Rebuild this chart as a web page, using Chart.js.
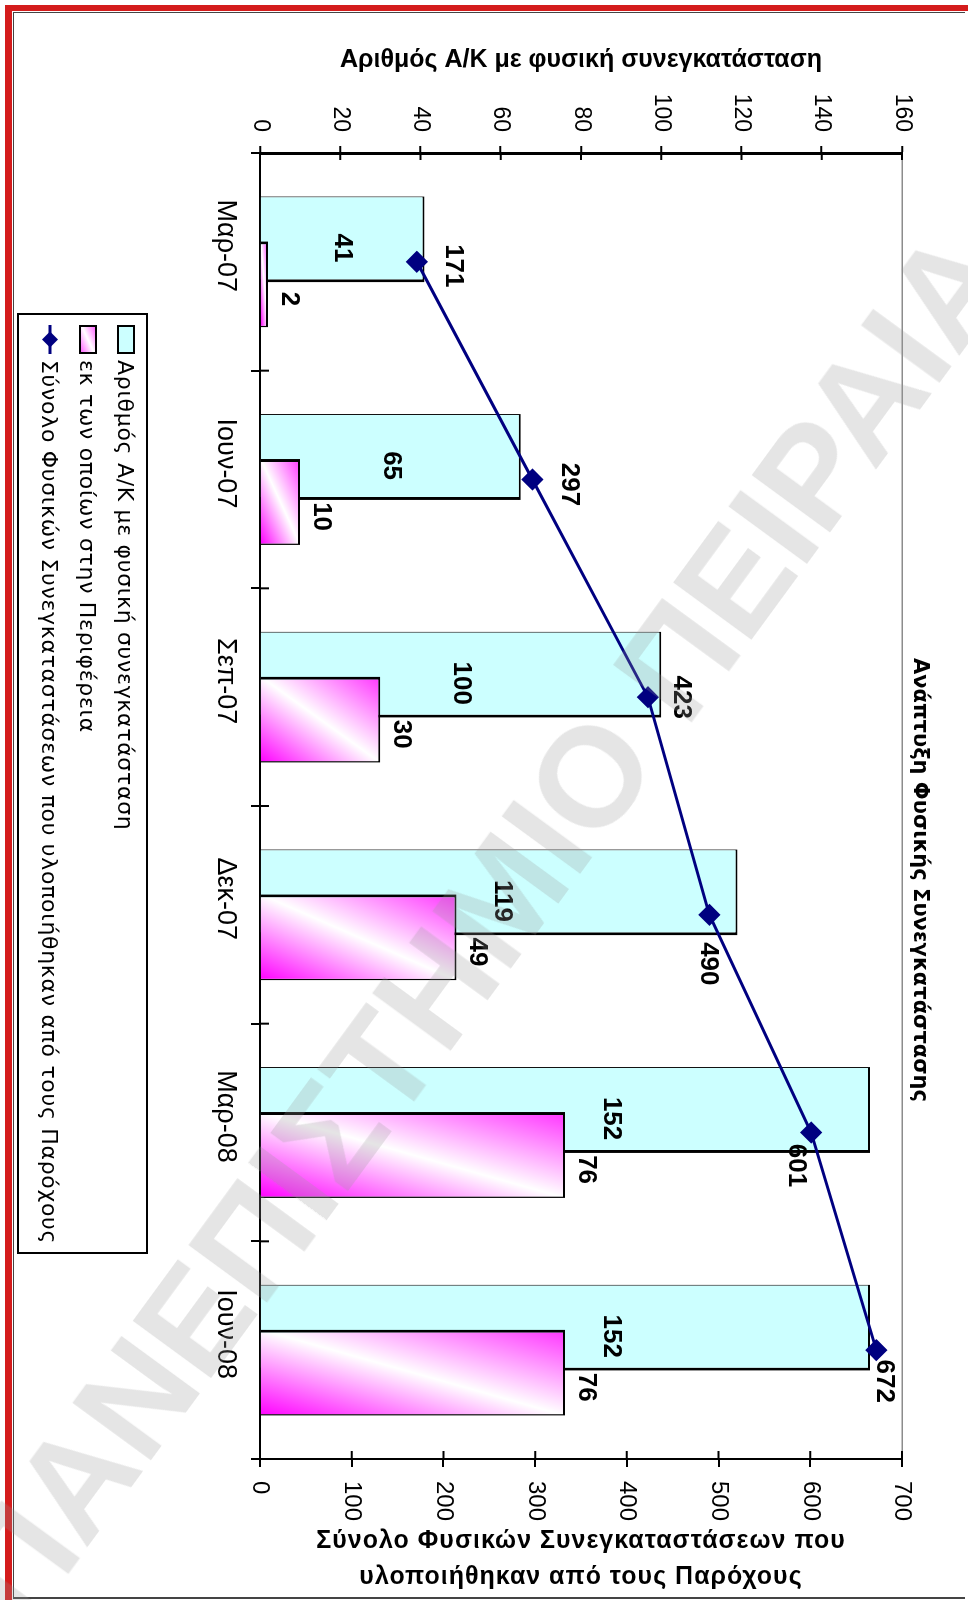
<!DOCTYPE html>
<html lang="el">
<head>
<meta charset="utf-8">
<title>Ανάπτυξη Φυσικής Συνεγκατάστασης</title>
<script src="https://cdn.jsdelivr.net/npm/chart.js@4.4.1/dist/chart.umd.min.js"></script>
<style>
  html, body { margin: 0; padding: 0; background: #fff; }
  body { width: 968px; height: 1600px; position: relative; overflow: hidden; font-family: 'Liberation Sans', Arial, sans-serif; }
  .frame { position: absolute; left: 5px; top: 5px; right: 0; bottom: 0; border-top: 6px solid #d41c1c; border-left: 7px solid #d41c1c; }
  .frame-inner { position: absolute; left: 13px; top: 12px; right: 3px; bottom: 1px; border-left: 1px solid #444; border-top: 1px solid #444; border-bottom: 2px solid #444; }
  /* the chart is laid out landscape and turned a quarter clockwise */
  .turned { position: absolute; left: 0; top: 0; width: 1600px; height: 968px; transform-origin: 0 0; transform: translate(968px, 0) rotate(90deg); }
  #chart { position: absolute; left: 0; top: 0; }
  .legend { position: absolute; left: 313px; top: 820px; height: 131px; box-sizing: border-box; border: 2px solid #000; background: #fff; padding: 1px 8px 0 10px; font-family: 'DejaVu Sans', sans-serif; font-size: 22px; letter-spacing: 0.7px; color: #000; }
  .legend-row { display: flex; align-items: center; height: 38px; white-space: nowrap; }
  .sw { flex: none; display: inline-block; width: 29px; height: 18px; margin-right: 6px; box-sizing: border-box; }
  .sw-cyan { background: #ccffff; border: 2px solid #000; }
  .sw-pink { background: linear-gradient(155deg, #ff66ff, #ffffff 50%, #ff66ff); border: 2px solid #000; }
  .sw-line { height: 22px; }
  .watermark { position: absolute; left: 0; top: 0; white-space: nowrap; font-family: 'Liberation Sans', sans-serif; font-weight: bold; font-size: 141px; line-height: 1; color: rgba(150, 150, 150, 0.25); transform-origin: 0 0; transform: translate(-71px, 1562px) rotate(-53.8deg); pointer-events: none; }
</style>
</head>
<body>
<div class="frame"></div>
<div class="frame-inner"></div>
<div class="turned">
  <canvas id="chart" width="1600" height="968"></canvas>
  <div class="legend" id="legend"></div>
</div>
<div class="watermark">ΠΑΝΕΠΙΣΤΗΜΙΟ ΠΕΙΡΑΙΑ</div>

<script>
// Quarterly figures
const categories = ['Μαρ-07', 'Ιουν-07', 'Σεπ-07', 'Δεκ-07', 'Μαρ-08', 'Ιουν-08'];
const exchangesWithColocation = [41, 65, 100, 119, 152, 152];
const ofWhichInRegions = [2, 10, 30, 49, 76, 76];
const totalColocations = [171, 297, 423, 490, 601, 672];

// Axis ticks
const leftAxisTicks = [0, 20, 40, 60, 80, 100, 120, 140, 160];
const rightAxisTicks = [0, 100, 200, 300, 400, 500, 600, 700];

// Texts
const chartTitle = 'Ανάπτυξη Φυσικής Συνεγκατάστασης';
const seriesNames = [
  'Αριθμός Α/Κ με φυσική συνεγκατάσταση',
  'εκ των οποίων στην Περιφέρεια',
  'Σύνολο Φυσικών Συνεγκαταστάσεων που υλοποιήθηκαν από τους Παρόχους'
];
const leftAxisTitle = 'Αριθμός Α/Κ με φυσική συνεγκατάσταση';
const rightAxisTitle = ['Σύνολο Φυσικών Συνεγκαταστάσεων που', 'υλοποιήθηκαν από τους Παρόχους'];

const FONT = "'Liberation Sans', Arial, sans-serif";
// where each total label sits relative to its point (dx, dy in px)
const lineLabelOffsets = [[4, -36], [5, -37], [0, -33], [49, 1], [33, 15], [31, -8]];

Chart.defaults.font.family = FONT;
Chart.defaults.color = '#000';

// diagonal magenta / white / magenta fill for each regional bar
function pinkFill(ctx) {
  const el = ctx.element;
  if (!el || !isFinite(el.x) || !isFinite(el.base) || !isFinite(el.width)) return '#ff99ff';
  const w = el.width, h = Math.abs(el.base - el.y);
  const xr = el.x + w / 2, base = el.base;
  const k = (2 * w * h) / (w * w + h * h || 1);
  const g = ctx.chart.ctx.createLinearGradient(xr, base, xr - h * k, base - w * k);
  g.addColorStop(0, '#ff00ff');
  g.addColorStop(0.5, '#ffffff');
  g.addColorStop(1, '#ff33ff');
  return g;
}

// draw regional bars over the exchange bars, and the total line over both
const layering = {
  id: 'layering',
  beforeDatasetDraw(chart, args) {
    if (args.index === 1) return false;
  },
  afterDatasetDraw(chart, args) {
    if (args.index === 0) chart.getDatasetMeta(1).controller.draw();
  }
};

// ticks that cross the axis lines
const crossTicks = {
  id: 'crossTicks',
  afterDatasetsDraw(chart) {
    const { ctx, chartArea: a, scales: { x, y, y1 } } = chart;
    ctx.save();
    ctx.strokeStyle = '#000';
    ctx.lineWidth = 2;
    ctx.beginPath();
    y.ticks.forEach(t => { const p = y.getPixelForValue(t.value); ctx.moveTo(a.left, p); ctx.lineTo(a.left + 7, p); });
    y1.ticks.forEach(t => { const p = y1.getPixelForValue(t.value); ctx.moveTo(a.right - 8, p); ctx.lineTo(a.right, p); });
    for (let i = 0; i <= categories.length; i++) {
      const p = x.getPixelForValue(i - 0.5);
      ctx.moveTo(p, a.bottom - 9); ctx.lineTo(p, a.bottom);
    }
    ctx.stroke();
    ctx.restore();
  }
};

// value labels for bars and the line
const valueLabels = {
  id: 'valueLabels',
  afterDatasetsDraw(chart) {
    const ctx = chart.ctx;
    const back = chart.getDatasetMeta(0).data;
    const front = chart.getDatasetMeta(1).data;
    ctx.save();
    ctx.fillStyle = '#000';
    ctx.font = 'bold 26px ' + FONT;
    ctx.textBaseline = 'middle';
    ctx.textAlign = 'center';
    back.forEach((el, i) => {
      // centred in the bar, but kept clear of the bar drawn in front of it
      const mid = (el.y + el.base) / 2;
      const clear = front[i].y - 46;
      ctx.fillText(String(chart.data.datasets[0].data[i]), el.x + el.width * 0.1, Math.min(mid, clear));
    });
    front.forEach((el, i) => {
      ctx.fillText(String(chart.data.datasets[1].data[i]), el.x + el.width * 0.17, el.y - 21);
    });
    chart.getDatasetMeta(2).data.forEach((el, i) => {
      const [dx, dy] = lineLabelOffsets[i];
      ctx.fillText(String(chart.data.datasets[2].data[i]), el.x + dx, el.y + dy);
    });
    ctx.restore();
  }
};

// chart title and the title of the secondary axis
const titles = {
  id: 'titles',
  afterDraw(chart) {
    const { ctx, chartArea: a, scales: { y1 } } = chart;
    ctx.save();
    ctx.fillStyle = '#000';
    ctx.textAlign = 'center';
    ctx.textBaseline = 'middle';
    ctx.font = "bold 21px 'DejaVu Sans', sans-serif";
    ctx.fillText(chartTitle, 880, 49);

    const cy = (a.top + a.bottom) / 2;
    ctx.font = 'bold 25px ' + FONT;
    if ('letterSpacing' in ctx) ctx.letterSpacing = '1px';
    rightAxisTitle.forEach((line, k) => {
      ctx.save();
      ctx.translate(y1.left + 82 + k * 36, cy);
      ctx.rotate(-Math.PI / 2);
      ctx.fillText(line, 0, 0);
      ctx.restore();
    });
    ctx.restore();
  }
};

const chart = new Chart(document.getElementById('chart'), {
  data: {
    labels: categories,
    datasets: [
      {
        type: 'bar',
        label: seriesNames[0],
        data: exchangesWithColocation,
        yAxisID: 'y',
        backgroundColor: '#ccffff',
        borderColor: '#000',
        borderWidth: { left: 1, right: 3, top: 2, bottom: 0 },
        categoryPercentage: 0.4134,
        barPercentage: 1.91,
        order: 1
      },
      {
        type: 'bar',
        label: seriesNames[1],
        data: ofWhichInRegions,
        yAxisID: 'y',
        backgroundColor: pinkFill,
        borderColor: '#000',
        borderWidth: { left: 3, right: 1.5, top: 2, bottom: 0 },
        categoryPercentage: 0.4134,
        barPercentage: 1.91,
        order: 2
      },
      {
        type: 'line',
        label: seriesNames[2],
        data: totalColocations,
        yAxisID: 'y1',
        borderColor: '#000080',
        borderWidth: 3,
        pointStyle: 'rectRot',
        pointRadius: 9,
        pointBackgroundColor: '#000080',
        pointBorderColor: '#000080',
        tension: 0,
        order: 0
      }
    ]
  },
  options: {
    responsive: false,
    animation: false,
    events: [],
    layout: { padding: { top: 66 } },
    plugins: {
      legend: { display: false },
      tooltip: { enabled: false },
      title: { display: false }
    },
    scales: {
      x: {
        type: 'category',
        offset: true,
        grid: { offset: true, drawOnChartArea: false, tickLength: 9, color: '#000', lineWidth: 2 },
        border: { color: '#000', width: 2 },
        ticks: { font: { size: 27 }, color: '#000', padding: 9, maxRotation: 0, labelOffset: -16 },
        afterFit(s) { s.height = 260; }
      },
      y: {
        type: 'linear',
        position: 'left',
        min: 0,
        max: 160,
        afterBuildTicks(s) { s.ticks = leftAxisTicks.map(v => ({ value: v })); },
        grid: {
          color: c => (c.tick && c.tick.value === 160 ? '#8c8c8c' : 'rgba(0,0,0,0)'),
          lineWidth: 1.5,
          tickColor: '#000',
          tickWidth: 2,
          tickLength: 7
        },
        border: { color: '#000', width: 3 },
        ticks: { font: { size: 23 }, color: '#000', padding: 14, callback: v => String(v) },
        title: {
          display: true,
          text: leftAxisTitle,
          color: '#000',
          font: { size: 25, weight: 'bold' },
          padding: { top: 45, bottom: 0 }
        },
        afterFit(s) { s.width = 153; }
      },
      y1: {
        type: 'linear',
        position: 'right',
        min: 0,
        max: 700,
        afterBuildTicks(s) { s.ticks = rightAxisTicks.map(v => ({ value: v })); },
        grid: { drawOnChartArea: false, color: '#000', lineWidth: 2, tickLength: 8 },
        border: { color: '#000', width: 2 },
        ticks: { font: { size: 24 }, color: '#000', padding: 14, callback: v => String(v) },
        afterFit(s) { s.width = 141; }
      }
    }
  },
  plugins: [layering, crossTicks, valueLabels, titles]
});
// second pass so the bar fills can use the final bar geometry
chart.update('none');

// legend built from the datasets
const legend = document.getElementById('legend');
chart.data.datasets.forEach((ds, i) => {
  const row = document.createElement('div');
  row.className = 'legend-row';
  let sw;
  if (i < 2) {
    sw = document.createElement('span');
    sw.className = 'sw ' + (i === 0 ? 'sw-cyan' : 'sw-pink');
  } else {
    sw = document.createElementNS('http://www.w3.org/2000/svg', 'svg');
    sw.setAttribute('class', 'sw sw-line');
    sw.setAttribute('viewBox', '0 0 29 22');
    sw.innerHTML = '<line x1="0" y1="11" x2="29" y2="11" stroke="#000080" stroke-width="3"/>' +
      '<polygon points="14.5,3 22.5,11 14.5,19 6.5,11" fill="#000080"/>';
  }
  const txt = document.createElement('span');
  txt.textContent = ds.label;
  row.appendChild(sw);
  row.appendChild(txt);
  legend.appendChild(row);
});
</script>
</body>
</html>
